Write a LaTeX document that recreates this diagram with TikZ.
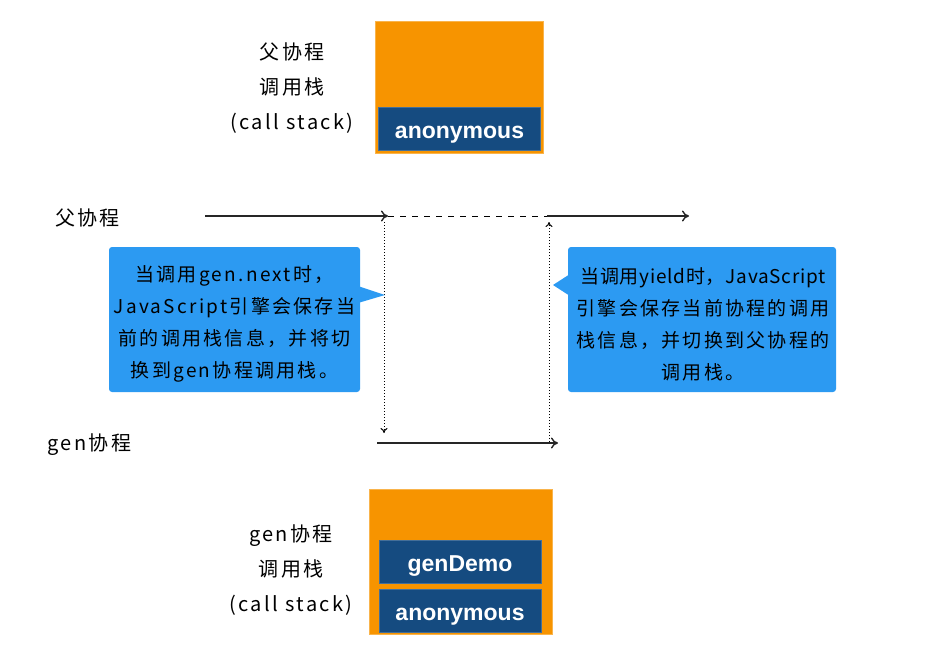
\documentclass[tikz,border=0pt]{standalone}
\usepackage{fontspec}
\setmainfont{Liberation Sans}
\newfontfamily\cjk[LetterSpace=12]{Noto Sans CJK SC}
\newfontfamily\cjks[LetterSpace=4]{Noto Sans CJK SC}
\usetikzlibrary{arrows.meta}
\definecolor{orangebox}{HTML}{F79400}
\definecolor{navybox}{HTML}{154B80}
\definecolor{bubble}{HTML}{2C9AF2}
\tikzset{
  stackbox/.style={draw=orangebox!70, fill=orangebox, inner sep=0pt},
  framebox/.style={fill=navybox, draw=navybox!80!white, inner sep=0pt, minimum width=162pt, minimum height=43pt, text=white, text height=19pt, text depth=0pt, font=\fontsize{23}{24}\selectfont\bfseries},
  lbl/.style={font=\cjk\fontsize{20}{35}\selectfont, align=center, inner sep=0pt},
  bubblebox/.style={fill=bubble, rounded corners=3pt, minimum width=251pt, minimum height=145pt, inner sep=0pt},
  btext/.style={font=\cjk\fontsize{19}{32}\selectfont, align=center, inner sep=0pt},
  flow/.style={line width=1.4pt, draw=black!85, -{To[length=7pt,width=11pt]}},
  dashline/.style={line width=0.9pt, dash pattern=on 6pt off 6pt},
  dotline/.style={line width=1pt, dotted, -{To[length=5pt,width=7pt]}},
}
\begin{document}
\begin{tikzpicture}[x=1pt,y=-1pt]
\useasboundingbox (0,0) rectangle (926,664);
% top stack
\node[stackbox, minimum width=168pt, minimum height=132pt] (topstack) at (459,87) {};
\node[framebox] (topanon) at (459.5,129) {anonymous};
\node[lbl] (toplbl) at (292,88) {父协程\\调用栈\\(call stack)};
% labels
\node[lbl, anchor=west] (parent) at (55,218) {父协程};
\node[lbl, anchor=west] (gen) at (47,445) {gen协程};
% main flow
\coordinate (a0) at (205,216);
\coordinate (a1) at (388,216);
\coordinate (a2) at (547,216);
\coordinate (a3) at (689,216);
\draw[flow] (a0) -- (a1);
\draw[dashline] (a1) -- (a2);
\draw[flow] (a2) -- (a3);
\coordinate (g0) at (377,443);
\coordinate (g1) at (558,443);
\draw[flow] (g0) -- (g1);
% dotted verticals
\coordinate (d0) at (384,222);
\coordinate (d1) at (384,433);
\draw[dotline] (d0) -- (d1);
\coordinate (u0) at (549,442);
\coordinate (u1) at (549,222);
\draw[dotline] (u0) -- (u1);
% left bubble
\node[bubblebox] (lb) at (234.5,319.5) {};
\coordinate (lt) at (385,295);
\fill[bubble] (358,286) -- (lt) -- (358,303) -- cycle;
\node[btext] (lbt) at (234.5,324) {当调用gen.next时，\\JavaScript引擎会保存当\\前的调用栈信息，并将切\\换到gen协程调用栈。};
% right bubble
\node[bubblebox, minimum width=268pt] (rb) at (702,319.5) {};
\coordinate (rt) at (553,285);
\fill[bubble] (570,274) -- (rt) -- (570,296) -- cycle;
\node[btext] (rbt) at (703,324) {{\cjks 当调用yield时，JavaScript}\\引擎会保存当前协程的调用\\栈信息，并切换到父协程的\\调用栈。};
% bottom stack
\node[stackbox, minimum width=183pt, minimum height=145pt] (botstack) at (460.5,561.5) {};
\node[framebox] (botgen) at (460,561.5) {genDemo};
\node[framebox] (botanon) at (460,610.5) {anonymous};
\node[lbl] (botlbl) at (291,570) {gen协程\\调用栈\\(call stack)};
\end{tikzpicture}
\end{document}
